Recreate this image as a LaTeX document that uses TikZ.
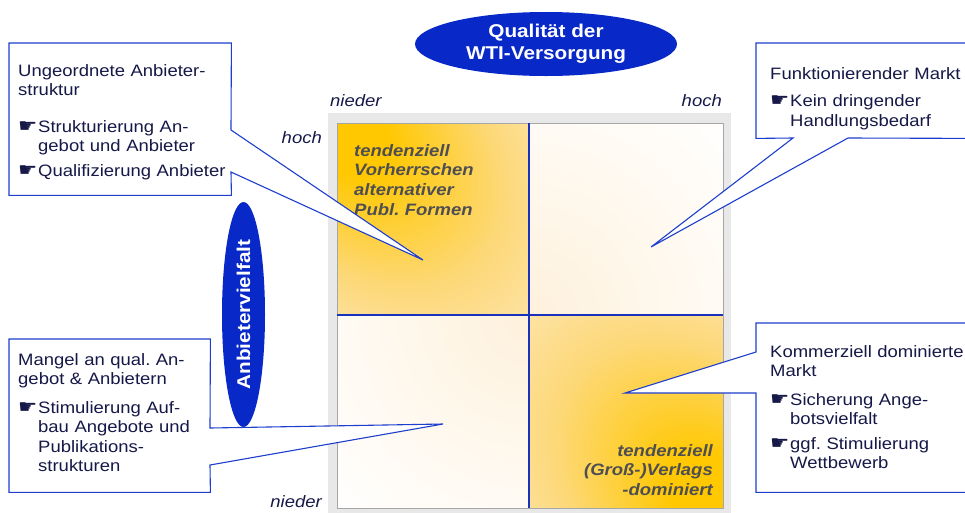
\documentclass[tikz,border=0pt]{standalone}
\usepackage{amsmath}
\usepackage{fontspec}
\setmainfont{Liberation Sans}[FakeStretch = 1.12]
\newfontfamily\handfont{DejaVu Sans}
\usepackage{xcolor}
\usepackage{tikz}
\usetikzlibrary{shapes.geometric}
\usetikzlibrary{arrows}

\definecolor{callblue}{RGB}{30, 62, 205}
\definecolor{divblue}{RGB}{25, 50, 190}
\definecolor{ovalblue}{RGB}{8, 40, 200}
\definecolor{textnavy}{RGB}{22, 24, 72}
\definecolor{quadgray}{RGB}{78, 78, 82}
\definecolor{framegray}{RGB}{232, 232, 232}
\definecolor{qorange}{RGB}{255, 200, 0}
\definecolor{qmid}{RGB}{253, 216, 120}
\definecolor{qcream}{RGB}{254, 242, 222}
\definecolor{qpale}{RGB}{254, 241, 220}

\pgfdeclareradialshading{cornerglow}{\pgfpoint{0bp}{0bp}}{color(0bp)=(qorange);color(4bp)=(qorange);color(13bp)=(qmid);color(25bp)=(qcream);color(50bp)=(qcream)}
\pgfdeclareradialshading{centerglow}{\pgfpoint{0bp}{0bp}}{color(0bp)=(qpale);color(25bp)=(white);color(50bp)=(white)}

\newcommand{\hand}{\makebox[20pt][l]{\scalebox{1.3}[1.15]{\handfont ☛}}}
\frenchspacing

\begin{document}
\begin{tikzpicture}[x = 1pt, y = -1pt,
        callout/.style = {draw = callblue, fill = white, line width = 1.1pt},
        boxnode/.style = {inner sep = 0pt, anchor = north west},
        calltext/.style = {text = textnavy, inner sep = 0pt, anchor = base west,
            text width = 260pt, align = left, font = \fontsize{16.5}{19.5}\selectfont},
        quadtext/.style = {text = quadgray, inner sep = 0pt, text width = 200pt,
            font = \bfseries\itshape\fontsize{16.5}{19.8}\selectfont},
        axlabel/.style = {text = textnavy, inner sep = 0pt, font = \itshape\fontsize{16.5}{19}\selectfont},
        oval/.style = {ellipse, fill = ovalblue, text = white, inner sep = 0pt, align = center,
            font = \bfseries\fontsize{18.5}{21.5}\selectfont}]
        \useasboundingbox (0, 0) rectangle (965, 512);

        \fill [framegray] (328, 113) rectangle (731, 516);
        \fill [white] (337, 123) rectangle (723, 508);
        \begin{scope}
            \clip (337, 123) rectangle (723, 508);
            \shade [shading = centerglow] (529, 315) circle (280);
        \end{scope}
        \begin{scope}
            \clip (337, 123) rectangle (529, 315);
            \begin{scope}[transform canvas = {shift = {(337, 123)}, rotate = -45}]
                \shade [shading = cornerglow] (0, 0) ellipse (380 and 240);
            \end{scope}
        \end{scope}
        \begin{scope}
            \clip (529, 315) rectangle (723, 508);
            \begin{scope}[transform canvas = {shift = {(723, 508)}, rotate = -45}]
                \shade [shading = cornerglow] (0, 0) ellipse (380 and 250);
            \end{scope}
        \end{scope}
        \draw [color = gray!70, line width = 0.8pt] (337, 123) rectangle (723, 508);
        \draw [color = divblue, line width = 1.2pt] (529, 123) -- (529, 508);
        \draw [color = divblue, line width = 1.2pt] (337, 315) -- (723, 315);

        \node [quadtext, anchor = base west, align = left] (textTL) at (354, 156)
            {tendenziell\\Vorherrschen\\alternativer\\Publ. Formen};
        \node [quadtext, anchor = base east, align = right] (textBR) at (713, 456)
            {tendenziell\\(Groß-)Verlags\\-dominiert};

        \node [axlabel, anchor = base west] (lowX) at (330, 106) {nieder};
        \node [axlabel, anchor = base east] (highX) at (722, 106) {hoch};
        \node [axlabel, anchor = base east] (highY) at (322, 143) {hoch};
        \node [axlabel, anchor = base east] (lowY) at (322, 507) {nieder};

        \node [oval, minimum width = 262, minimum height = 64] (quality) at (546, 44)
            {Qualität der\\WTI-Versorgung};
        \node [oval, rotate = 90, minimum width = 225, minimum height = 43] (variety) at (243.5, 314.5)
            {Anbietervielfalt};

        \node [boxnode, minimum width = 222, minimum height = 152] (boxUL) at (9, 43) {};
        \coordinate (ulA) at (231, 130);
        \coordinate (ulB) at (231, 172);
        \coordinate (tipUL) at (423, 260);
        \filldraw [callout] (boxUL.north west) -- (boxUL.north east) -- (ulA) -- (tipUL)
            -- (ulB) -- (boxUL.south east) -- (boxUL.south west) -- cycle;
        \node [calltext] (noteUL) at (18, 76)
            {Ungeordnete Anbieter-\\struktur\\[17pt]\hand Strukturierung An-\\\hspace*{20pt}gebot und Anbieter\\[5pt]\hand Qualifizierung Anbieter};

        \node [boxnode, minimum width = 219, minimum height = 95] (boxUR) at (756, 43) {};
        \coordinate (urA) at (848, 138);
        \coordinate (urB) at (793, 138);
        \coordinate (tipUR) at (651, 247);
        \filldraw [callout] (boxUR.north west) -- (boxUR.north east) -- (boxUR.south east)
            -- (urA) -- (tipUR) -- (urB) -- (boxUR.south west) -- cycle;
        \node [calltext] (noteUR) at (770, 79)
            {Funktionierender Markt\\[8pt]\hand Kein dringender\\\hspace*{20pt}Handlungsbedarf};

        \node [boxnode, minimum width = 201, minimum height = 153] (boxBL) at (9, 339) {};
        \coordinate (blA) at (210, 428);
        \coordinate (blB) at (210, 465);
        \coordinate (tipBL) at (443, 424);
        \filldraw [callout] (boxBL.north west) -- (boxBL.north east) -- (blA) -- (tipBL)
            -- (blB) -- (boxBL.south east) -- (boxBL.south west) -- cycle;
        \node [calltext] (noteBL) at (18, 365)
            {Mangel an qual. An-\\gebot \& Anbietern\\[9pt]\hand Stimulierung Auf-\\\hspace*{20pt}bau Angebote und\\\hspace*{20pt}Publikations-\\\hspace*{20pt}strukturen};

        \node [boxnode, minimum width = 219, minimum height = 169] (boxBR) at (756, 323) {};
        \coordinate (brA) at (756, 352);
        \coordinate (brB) at (756, 393);
        \coordinate (tipBR) at (625, 393);
        \filldraw [callout] (boxBR.north west) -- (boxBR.north east) -- (boxBR.south east)
            -- (boxBR.south west) -- (brB) -- (tipBR) -- (brA) -- cycle;
        \node [calltext] (noteBR) at (770, 357)
            {Kommerziell dominierte\\Markt\\[9pt]\hand Sicherung Ange-\\\hspace*{20pt}botsvielfalt\\[5pt]\hand ggf. Stimulierung\\\hspace*{20pt}Wettbewerb};
    \end{tikzpicture}
\end{document}
